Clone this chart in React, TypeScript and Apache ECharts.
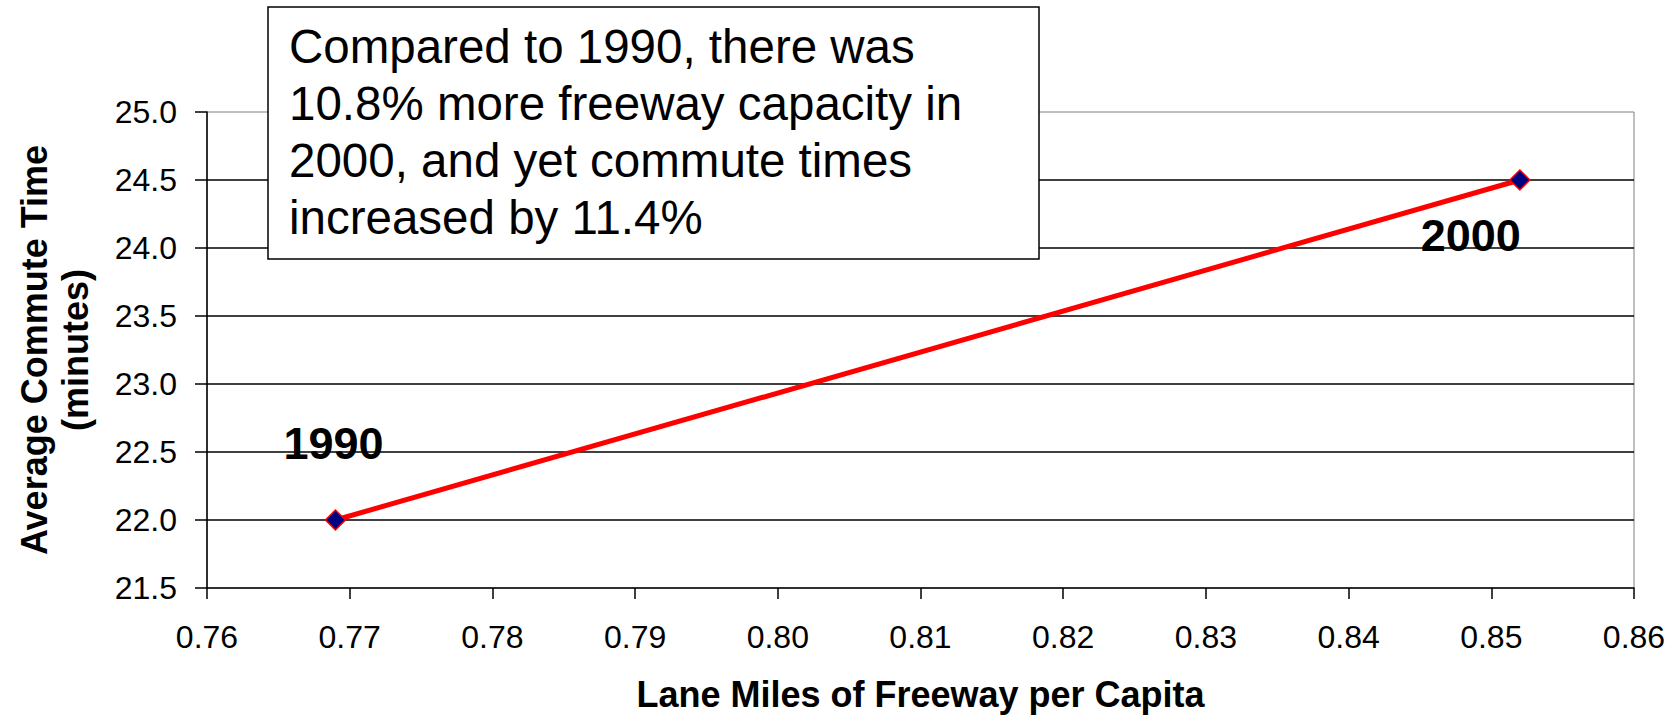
import React, { useEffect, useRef } from "react";
import * as echarts from "echarts";

// ---- data ----
const years = ["1990", "2000"];
const laneMilesPerCapita = [0.769, 0.852];
const commuteMinutes = [22.0, 24.5];

const xMin = 0.76;
const xMax = 0.86;
const xStep = 0.01;
const yMin = 21.5;
const yMax = 25.0;
const yStep = 0.5;

const xTitle = "Lane Miles of Freeway per Capita";
const yTitle = "Average Commute Time\n(minutes)";
const noteLines = [
  "Compared to 1990, there was",
  "10.8% more freeway capacity in",
  "2000, and yet commute times",
  "increased by 11.4%",
];

const FONT = "'Liberation Sans', Arial, Helvetica, sans-serif";

// label offsets per point (layout only)
const labelOffsets: [number, number][] = [
  [-2, -77],
  [-49, 55],
];

export default function App() {
  const ref = useRef<HTMLDivElement>(null);

  useEffect(() => {
    if (!ref.current) return;
    const chart = echarts.init(ref.current, null, { renderer: "svg" });

    const seriesData = laneMilesPerCapita.map((x, i) => ({
      value: [x, commuteMinutes[i]],
      name: years[i],
      label: {
        show: true,
        position: "inside",
        offset: labelOffsets[i],
        formatter: "{b}",
        fontFamily: FONT,
        fontSize: 45,
        fontWeight: "bold",
        color: "#000",
      },
    }));

    chart.setOption({
      animation: false,
      backgroundColor: "#ffffff",
      grid: {
        left: 207,
        right: 46,
        top: 112,
        bottom: 127,
        show: true,
        borderColor: "#808080",
        borderWidth: 1,
        backgroundColor: "transparent",
      },
      xAxis: {
        type: "value",
        min: xMin,
        max: xMax,
        interval: xStep,
        name: xTitle,
        nameLocation: "middle",
        nameGap: 88,
        nameTextStyle: {
          fontFamily: FONT,
          fontSize: 36,
          fontWeight: "bold",
          color: "#000",
        },
        axisLine: { show: true, onZero: false, lineStyle: { color: "#000", width: 1.5 } },
        axisTick: { show: true, length: 11, lineStyle: { color: "#000", width: 1.5 } },
        axisLabel: {
          margin: 33,
          fontFamily: FONT,
          fontSize: 32,
          color: "#000",
          formatter: (v: number) => v.toFixed(2),
        },
        splitLine: { show: false },
      },
      yAxis: {
        type: "value",
        min: yMin,
        max: yMax,
        interval: yStep,
        name: yTitle,
        nameLocation: "middle",
        nameRotate: 90,
        nameGap: 111,
        nameTextStyle: {
          fontFamily: FONT,
          fontSize: 36,
          fontWeight: "bold",
          lineHeight: 41,
          color: "#000",
        },
        axisLine: { show: true, onZero: false, lineStyle: { color: "#000", width: 1.5 } },
        axisTick: { show: true, length: 12, lineStyle: { color: "#000", width: 1.5 } },
        axisLabel: {
          margin: 30,
          fontFamily: FONT,
          fontSize: 32,
          color: "#000",
          formatter: (v: number) => v.toFixed(1),
        },
        splitLine: {
          show: true,
          showMinLine: false,
          showMaxLine: false,
          lineStyle: { color: "#000", width: 1.5 },
        },
      },
      series: [
        {
          type: "line",
          data: seriesData,
          symbol: "diamond",
          symbolSize: 20,
          lineStyle: { color: "#ff0000", width: 5 },
          itemStyle: { color: "#000080", borderColor: "#ff0000", borderWidth: 1.5 },
          z: 5,
        },
      ],
      graphic: [
        {
          type: "rect",
          z: 100,
          shape: { x: 268, y: 7, width: 771, height: 252 },
          style: { fill: "#ffffff", stroke: "#000000", lineWidth: 1.5 },
        },
        {
          type: "text",
          z: 101,
          x: 289,
          y: 18,
          style: {
            text: noteLines.join("\n"),
            fontFamily: FONT,
            fontSize: 47.5,
            lineHeight: 57,
            fill: "#000",
            verticalAlign: "top",
            align: "left",
          },
        },
      ],
    });

    return () => chart.dispose();
  }, []);

  return (
    <div
      ref={ref}
      style={{ position: "absolute", left: 0, top: 0, width: 1680, height: 717 }}
    />
  );
}
